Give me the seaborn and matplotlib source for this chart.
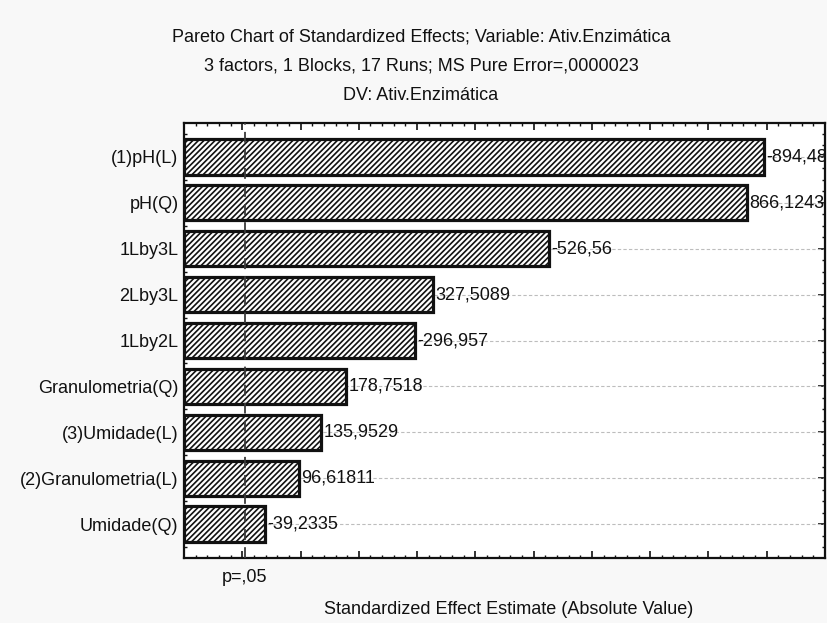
import matplotlib
matplotlib.use("Agg")
import matplotlib.pyplot as plt
from matplotlib.ticker import MultipleLocator, FixedLocator
from matplotlib.transforms import blended_transform_factory
import numpy as np
import pandas as pd
import seaborn as sns

# Effects ordered by absolute standardized estimate
factors = [
    "(1)pH(L)",
    "pH(Q)",
    "1Lby3L",
    "2Lby3L",
    "1Lby2L",
    "Granulometria(Q)",
    "(3)Umidade(L)",
    "(2)Granulometria(L)",
    "Umidade(Q)",
]
effects = [-894.48, 866.1243, -526.56, 327.5089, -296.957,
           178.7518, 135.9529, 96.61811, -39.2335]
p_critical = 4.303  # t(0.975; 2 df) for pure error

title_lines = [
    "Pareto Chart of Standardized Effects; Variable: Ativ.Enzimática",
    "3 factors, 1 Blocks, 17 Runs; MS Pure Error=,0000023",
    "DV: Ativ.Enzimática",
]
x_label = "Standardized Effect Estimate (Absolute Value)"
p_label = "p=,05"

XMIN, XMAX = -100, 1000
FS = 13

sns.set_theme(style="white")
plt.rcParams["font.family"] = ["Liberation Sans", "DejaVu Sans"]
plt.rcParams["hatch.linewidth"] = 1.2
plt.rcParams["hatch.color"] = "#333333"

df = pd.DataFrame({"factor": factors, "effect": effects})
df["abs_effect"] = df["effect"].abs()

fig = plt.figure(figsize=(8.27, 6.23), dpi=100, facecolor="#f8f8f8")
ax = fig.add_axes([184 / 827, 65 / 623, 641 / 827, 435 / 623])
ax.set_facecolor("white")

sns.barplot(data=df, y="factor", x="abs_effect", orient="h", ax=ax,
            color="white", edgecolor="#111111", linewidth=2.3,
            width=0.78, saturation=1, zorder=3)

# bars start at the left edge of the frame, as in the classic Pareto layout
for patch, val in zip(ax.patches, df["abs_effect"]):
    patch.set_x(XMIN)
    patch.set_width(val - XMIN)
    patch.set_hatch("//////")
    patch.set_facecolor("white")

ax.set_xlim(XMIN, XMAX)
ax.set_ylim(len(factors) - 1 + 0.73, -0.73)

# dotted guide lines at each bar
for i in range(len(factors)):
    ax.axhline(i, color="#bdbdbd", lw=0.8, ls=(0, (3, 2)), zorder=1)

# significance threshold
ax.axvline(p_critical, color="#3a3a3a", lw=1.3, ls=(0, (6, 4)), zorder=4)

# value labels
for i, (val, eff) in enumerate(zip(df["abs_effect"], df["effect"])):
    ax.text(val + 4, i, str(eff).replace(".", ","), va="center", ha="left",
            fontsize=FS, color="#111111", zorder=5)

# ticks
ax.xaxis.set_major_locator(MultipleLocator(100))
ax.xaxis.set_minor_locator(MultipleLocator(20))
ax.tick_params(axis="x", which="both", direction="in", top=True, bottom=True,
               labelbottom=False, color="#111111")
ax.tick_params(axis="x", which="major", length=5, width=1.2)
ax.tick_params(axis="x", which="minor", length=2.5, width=1.0)
ax.yaxis.set_minor_locator(FixedLocator(np.arange(-0.75, len(factors), 0.25)))
ax.tick_params(axis="y", which="major", left=False, right=True, direction="in",
               length=5, width=1.2, labelsize=FS, pad=4, color="#111111",
               labelcolor="#111111")
ax.tick_params(axis="y", which="minor", left=True, right=True, direction="in",
               length=2, width=1.0, color="#111111")
ax.set_xlabel("")
ax.set_ylabel("")

for s in ax.spines.values():
    s.set_visible(True)
    s.set_color("#111111")
    s.set_linewidth(1.6)

# titles and axis annotations
for text, ypix in zip(title_lines, [37, 66, 96]):
    fig.text(421 / 827, 1 - ypix / 623, text, ha="center", va="center",
             fontsize=FS, color="#111111")

trans = blended_transform_factory(ax.transData, fig.transFigure)
ax.text(p_critical, 1 - 578 / 623, p_label, transform=trans, ha="center",
        va="center", fontsize=FS, color="#111111")
fig.text(509 / 827, 1 - 609 / 623, x_label, ha="center", va="center",
         fontsize=FS, color="#111111")

fig.savefig("out.png", dpi=100, facecolor=fig.get_facecolor())
